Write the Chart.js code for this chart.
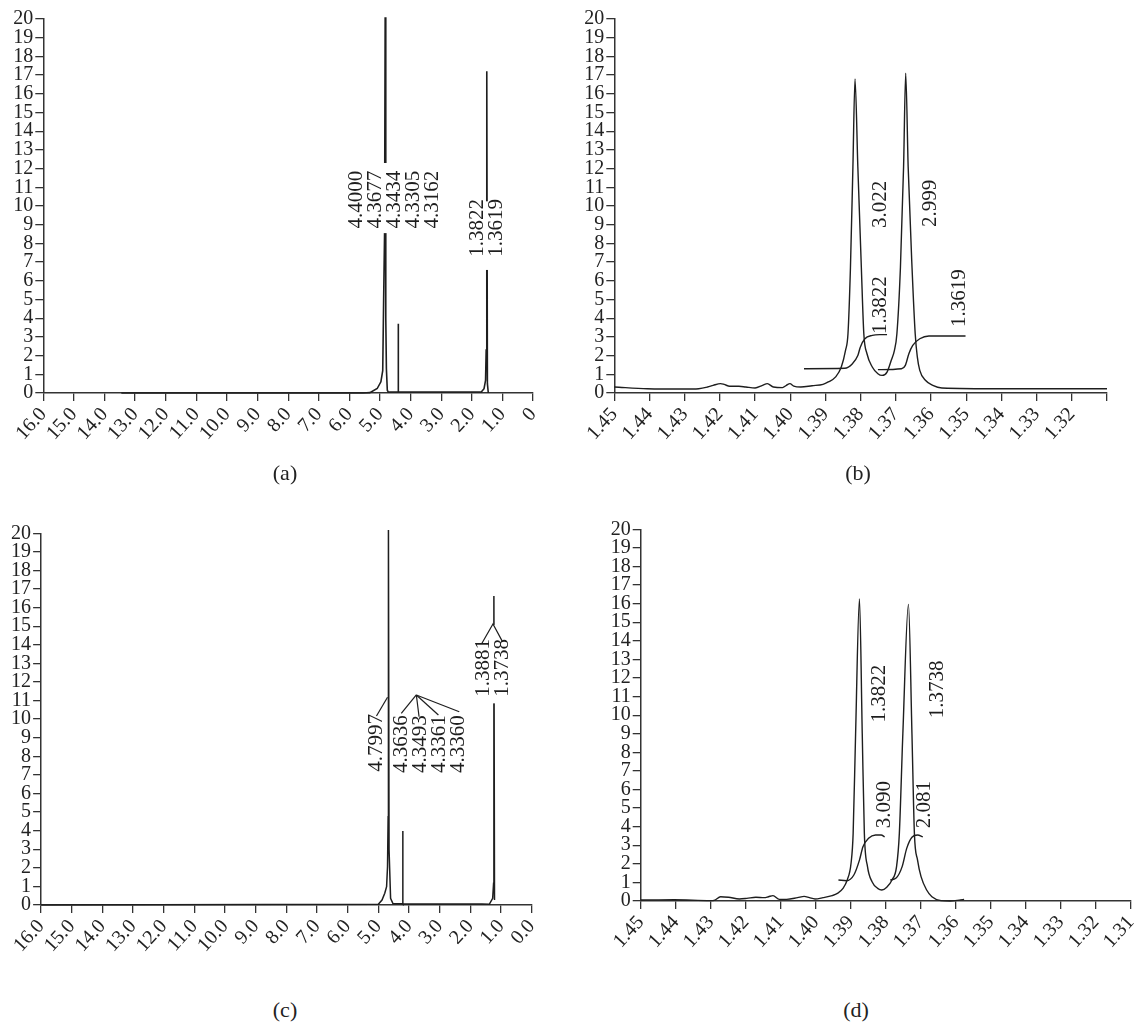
<!DOCTYPE html>
<html>
<head>
<meta charset="utf-8">
<script src="https://cdn.jsdelivr.net/npm/chart.js@4.4.1/dist/chart.umd.min.js"></script>
<style>
  body { margin: 0; background: #fff; width: 1135px; height: 1025px; position: relative; overflow: hidden; font-family: "Liberation Serif", "Times New Roman", serif; }
  .panel { position: absolute; }
  .cap { position: absolute; font-size: 22px; color: #222; transform: translate(-50%, -50%); }
</style>
</head>
<body>
<div class="panel" style="left:0;top:0"><canvas id="chartA" width="565" height="470"></canvas></div>
<div class="panel" style="left:565px;top:0"><canvas id="chartB" width="570" height="470"></canvas></div>
<div class="panel" style="left:0;top:500px"><canvas id="chartC" width="565" height="480"></canvas></div>
<div class="panel" style="left:565px;top:500px"><canvas id="chartD" width="570" height="480"></canvas></div>
<div class="cap" style="left:285px;top:473px">(a)</div>
<div class="cap" style="left:858px;top:473px">(b)</div>
<div class="cap" style="left:285px;top:1010px">(c)</div>
<div class="cap" style="left:856px;top:1010px">(d)</div>
<script>
// ---- tick labels ----
const yTicks = [0,1,2,3,4,5,6,7,8,9,10,11,12,13,14,15,16,17,18,19,20];
const wideTicks = [16,15,14,13,12,11,10,9,8,7,6,5,4,3,2,1,0];
const wideLabelsA = ['16.0','15.0','14.0','13.0','12.0','11.0','10.0','9.0','8.0','7.0','6.0','5.0','4.0','3.0','2.0','1.0','0'];
const wideLabelsC = ['16.0','15.0','14.0','13.0','12.0','11.0','10.0','9.0','8.0','7.0','6.0','5.0','4.0','3.0','2.0','1.0','0.0'];
const zoomTicks = [1.45,1.44,1.43,1.42,1.41,1.40,1.39,1.38,1.37,1.36,1.35,1.34,1.33,1.32,1.31];
const zoomLabelsB = ['1.45','1.44','1.43','1.42','1.41','1.40','1.39','1.38','1.37','1.36','1.35','1.34','1.33','1.32',''];
const zoomLabelsD = ['1.45','1.44','1.43','1.42','1.41','1.40','1.39','1.38','1.37','1.36','1.35','1.34','1.33','1.32','1.31'];

// ---- (a) full spectrum ----
const aPpm = [13.45, 5.55, 5.33, 5.09, 4.97, 4.91, 4.88, 4.85, 4.83, 4.81, 4.79, 4.76, 4.73, 4.41, 4.405, 4.395, 1.69, 1.60, 1.55, 1.53, 1.51, 1.49, 1.46];
const aInt = [0, 0, 0.02, 0.24, 0.6, 1.2, 5.0, 8.5, 20.1, 4.0, 1.3, 0.15, 0.05, 0.05, 3.7, 0.05, 0.05, 0.23, 0.68, 2.3, 17.2, 0.5, 0];

// ---- (b) expanded 1.45-1.31 ----
const bPpm = [1.45, 1.4406, 1.4302, 1.426, 1.4235, 1.4219, 1.4198, 1.4188, 1.4172, 1.4146, 1.4126, 1.41, 1.4079, 1.4065, 1.4048, 1.4022, 1.4011, 1.4001, 1.399, 1.397, 1.3938, 1.3907, 1.3892, 1.3871, 1.3855, 1.3843, 1.3836, 1.3829, 1.3822, 1.3816, 1.3808, 1.3798, 1.3791, 1.3782, 1.3767, 1.3751, 1.3739, 1.3725, 1.3713, 1.3704, 1.3697, 1.3687, 1.3678, 1.3672, 1.3665, 1.3654, 1.3645, 1.3639, 1.3632, 1.3616, 1.3595, 1.3569, 1.3398, 1.31];
const bInt = [0.32, 0.23, 0.21, 0.23, 0.32, 0.41, 0.5, 0.46, 0.36, 0.36, 0.32, 0.27, 0.41, 0.5, 0.32, 0.29, 0.41, 0.5, 0.37, 0.32, 0.39, 0.46, 0.59, 0.86, 1.39, 2.28, 3.17, 6.7, 12.1, 16.8, 12.1, 6.7, 3.17, 2.1, 1.39, 1.03, 0.94, 1.12, 1.75, 2.28, 3.17, 6.7, 12.1, 17.1, 12.1, 6.7, 3.17, 1.93, 1.21, 0.68, 0.41, 0.27, 0.23, 0.23];
const bIntegral1Ppm = [1.3961, 1.3845, 1.3824, 1.3808, 1.3801, 1.3788, 1.3767, 1.3746, 1.3725];
const bIntegral1 = [1.30, 1.32, 1.55, 2.0, 2.45, 2.9, 3.08, 3.12, 3.12];
const bIntegral2Ppm = [1.3751, 1.3684, 1.3673, 1.3663, 1.3652, 1.3632, 1.3606, 1.3502];
const bIntegral2 = [1.25, 1.30, 1.48, 2.10, 2.55, 2.9, 3.05, 3.05];

// ---- (c) full spectrum ----
const cPpm = [16.0, 5.0, 4.88, 4.79, 4.73, 4.70, 4.68, 4.67, 4.65, 4.60, 4.52, 4.21, 4.205, 4.195, 1.62, 1.38, 1.27, 1.24, 1.23, 1.21];
const cInt = [0, 0.04, 0.27, 0.63, 0.99, 2.06, 4.75, 20.18, 3.0, 0.36, 0.07, 0.07, 3.98, 0.05, 0.05, 0.04, 0.36, 1.17, 16.63, 0.27];

// ---- (d) expanded 1.45-1.31 ----
const dPpm = [1.45, 1.4405, 1.4301, 1.4288, 1.4272, 1.4249, 1.4218, 1.4197, 1.4171, 1.4147, 1.4135, 1.4122, 1.4104, 1.4083, 1.4052, 1.4033, 1.4018, 1.4002, 1.3979, 1.3953, 1.3938, 1.3922, 1.3910, 1.3899, 1.3893, 1.3886, 1.3875, 1.3867, 1.3861, 1.3852, 1.3839, 1.3823, 1.3811, 1.3797, 1.3782, 1.3769, 1.3761, 1.3751, 1.3735, 1.3725, 1.3718, 1.3709, 1.3699, 1.3683, 1.3668, 1.3642, 1.3616, 1.359, 1.3576];
const dInt = [0.05, 0.07, 0.02, 0.05, 0.23, 0.2, 0.11, 0.14, 0.2, 0.18, 0.23, 0.29, 0.09, 0.09, 0.18, 0.25, 0.18, 0.11, 0.18, 0.29, 0.41, 0.68, 1.13, 2.03, 3.64, 9.0, 16.25, 9.0, 3.64, 1.85, 1.04, 0.68, 0.59, 0.74, 1.13, 1.85, 3.64, 9.0, 15.96, 9.0, 3.64, 2.2, 1.31, 0.59, 0.23, 0.02, 0, 0.05, 0.09];
const dIntegral1Ppm = [1.3935, 1.3912, 1.3891, 1.3875, 1.3865, 1.3849, 1.3829, 1.3813, 1.3803];
const dIntegral1 = [1.13, 1.09, 1.40, 2.2, 2.92, 3.37, 3.55, 3.55, 3.45];
const dIntegral2Ppm = [1.3787, 1.3771, 1.3753, 1.374, 1.3725, 1.3709, 1.3694];
const dIntegral2 = [1.13, 1.22, 1.85, 2.83, 3.43, 3.55, 3.45];

// ---- peak annotations (ppm, value where the text starts) ----
const aLabels = [
  { x: 4.54, y: 8.8, texts: ['4.4000', '4.3677', '4.3434', '4.3305', '4.3162'], gap: [8.55, 12.3] },
  { x: 1.51, y: 7.29, texts: ['1.3822', '1.3619'], gap: [6.58, 10.25] }
];
const bLabels = [
  { x: 1.3745, y: 8.82, texts: ['3.022'] },
  { x: 1.3602, y: 8.88, texts: ['2.999'] },
  { x: 1.3745, y: 3.15, texts: ['1.3822'] },
  { x: 1.3519, y: 3.53, texts: ['1.3619'] }
];
const cLabels = [
  { x: 5.06, y: 7.17, texts: ['4.7997'] },
  { x: 3.31, y: 7.1, texts: ['4.3636', '4.3493', '4.3361', '4.3360'] },
  { x: 1.27, y: 11.21, texts: ['1.3881', '1.3738'], gap: [10.85, 15.07] }
];
const cLeaders = [
  [[5.06, 10.17], [4.70, 11.18]],
  [[4.25, 10.31], [3.76, 11.3]],
  [[3.67, 10.13], [3.76, 11.3]],
  [[3.04, 10.22], [3.76, 11.3]],
  [[2.36, 10.4], [3.76, 11.3]],
  [[1.62, 14.08], [1.26, 15.12], [0.95, 14.17]]
];
const dLabels = [
  { x: 1.3818, y: 9.6, texts: ['1.3822'] },
  { x: 1.3652, y: 9.83, texts: ['1.3738'] },
  { x: 1.3803, y: 3.91, texts: ['3.090'] },
  { x: 1.3688, y: 3.91, texts: ['2.081'] }
];

const ink = '#1e1e1e';
const serif = '"Liberation Serif", "Times New Roman", serif';
const pts = (xs, ys) => xs.map((x, i) => ({ x: x, y: ys[i] }));

const peakLabelPlugin = (groups, leaders) => ({
  id: 'peakLabels',
  afterDatasetsDraw(chart) {
    const ctx = chart.ctx;
    const xs = chart.scales.x, ys = chart.scales.y;
    const step = 19;
    ctx.save();
    groups.forEach(g => {
      const cx = xs.getPixelForValue(g.x);
      const n = g.texts.length;
      if (g.gap) {
        // white out the peak line behind the labels
        const top = ys.getPixelForValue(g.gap[1]);
        const bot = ys.getPixelForValue(g.gap[0]);
        ctx.fillStyle = '#fff';
        ctx.fillRect(cx - n * step / 2, top, n * step, bot - top);
      }
      ctx.fillStyle = ink;
      ctx.font = '21px ' + serif;
      ctx.textAlign = 'left';
      ctx.textBaseline = 'middle';
      g.texts.forEach((t, i) => {
        ctx.save();
        ctx.translate(cx + (i - (n - 1) / 2) * step, ys.getPixelForValue(g.y));
        ctx.rotate(-Math.PI / 2);
        ctx.fillText(t, 0, 0);
        ctx.restore();
      });
    });
    ctx.strokeStyle = ink;
    ctx.lineWidth = 1.2;
    (leaders || []).forEach(line => {
      ctx.beginPath();
      line.forEach((p, i) => {
        const px = xs.getPixelForValue(p[0]), py = ys.getPixelForValue(p[1]);
        if (i === 0) ctx.moveTo(px, py); else ctx.lineTo(px, py);
      });
      ctx.stroke();
    });
    ctx.restore();
  }
});

function makeChart(id, cfg) {
  const canvas = document.getElementById(id);
  const W = canvas.width, H = canvas.height;
  const a = cfg.area;
  const datasets = cfg.series.map(s => ({
    data: pts(s.ppm, s.val),
    borderColor: ink,
    borderWidth: s.width || 1.4,
    pointRadius: 0,
    fill: false,
    clip: false,
    tension: 0,
    cubicInterpolationMode: s.smooth ? 'monotone' : 'default'
  }));
  const axisFont = { family: serif, size: 20 };
  return new Chart(canvas.getContext('2d'), {
    type: 'line',
    data: { datasets: datasets },
    options: {
      responsive: false,
      animation: false,
      events: [],
      layout: { padding: { left: 0, top: a.top, right: W - a.right, bottom: 0 } },
      plugins: { legend: { display: false }, tooltip: { enabled: false } },
      scales: {
        x: {
          type: 'linear',
          reverse: true,
          min: cfg.xMin,
          max: cfg.xMax,
          afterBuildTicks: s => { s.ticks = cfg.xTicks.map(v => ({ value: v })); },
          afterFit: s => { s.height = H - a.bottom; s.paddingLeft = 0; s.paddingRight = 0; },
          border: { color: '#333', width: 1.5 },
          grid: { drawOnChartArea: false, drawTicks: true, tickLength: 8, color: '#333', lineWidth: 1.3 },
          ticks: {
            autoSkip: false,
            minRotation: 48,
            maxRotation: 48,
            padding: 2,
            color: '#222',
            font: axisFont,
            callback: (v, i) => cfg.xLabels[i]
          }
        },
        y: {
          min: 0,
          max: 20,
          afterBuildTicks: s => { s.ticks = yTicks.map(v => ({ value: v })); },
          afterFit: s => { s.width = a.left; },
          border: { color: '#333', width: 1.5 },
          grid: { drawOnChartArea: false, drawTicks: true, tickLength: 8, color: '#333', lineWidth: 1.3 },
          ticks: { autoSkip: false, padding: 2, color: '#222', font: axisFont, callback: v => String(v) }
        }
      }
    },
    plugins: [peakLabelPlugin(cfg.labels, cfg.leaders)]
  });
}

makeChart('chartA', {
  area: { left: 43.3, top: 19, right: 533, bottom: 393 },
  xMin: 0, xMax: 16, xTicks: wideTicks, xLabels: wideLabelsA,
  series: [{ ppm: aPpm, val: aInt, width: 1.6 }],
  labels: aLabels
});

makeChart('chartB', {
  area: { left: 49.3, top: 19, right: 542, bottom: 393 },
  xMin: 1.31, xMax: 1.45, xTicks: zoomTicks, xLabels: zoomLabelsB,
  series: [
    { ppm: bPpm, val: bInt, smooth: true },
    { ppm: bIntegral1Ppm, val: bIntegral1, smooth: true },
    { ppm: bIntegral2Ppm, val: bIntegral2, smooth: true }
  ],
  labels: bLabels
});

makeChart('chartC', {
  area: { left: 41.1, top: 33.3, right: 531.6, bottom: 405 },
  xMin: 0, xMax: 16, xTicks: wideTicks, xLabels: wideLabelsC,
  series: [{ ppm: cPpm, val: cInt, width: 1.5 }],
  labels: cLabels,
  leaders: cLeaders
});

makeChart('chartD', {
  area: { left: 75.7, top: 29.3, right: 565.7, bottom: 401 },
  xMin: 1.31, xMax: 1.45, xTicks: zoomTicks, xLabels: zoomLabelsD,
  series: [
    { ppm: dPpm, val: dInt, smooth: true },
    { ppm: dIntegral1Ppm, val: dIntegral1, smooth: true },
    { ppm: dIntegral2Ppm, val: dIntegral2, smooth: true }
  ],
  labels: dLabels
});
</script>
</body>
</html>
